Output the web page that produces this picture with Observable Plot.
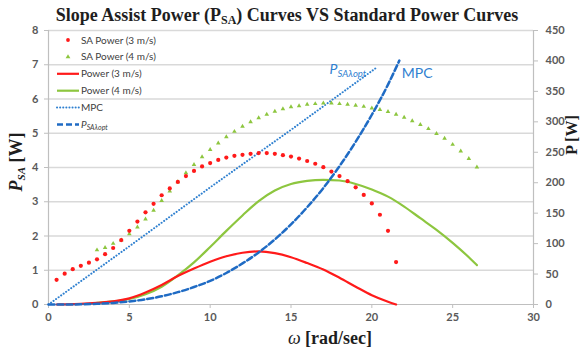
<!DOCTYPE html>
<html><head><meta charset="utf-8">
<script src="https://cdn.jsdelivr.net/npm/d3@7"></script>
<script src="https://cdn.jsdelivr.net/npm/@observablehq/plot@0.6"></script>
<style>body{margin:0;background:#fff;} svg{display:block;overflow:visible}</style>
</head><body><div id="chart"></div>
<script>
// ---- data ----
const saOmega3 = [0.5,1,1.5,2,2.5,3,3.5,4,4.5,5,5.5,6,6.5,7,7.5,8,8.5,9,9.5,10,10.5,11,11.5,12,12.5,13,13.5,14,14.5,15,15.5,16,16.5,17,17.5,18,18.5,19,19.5,20,20.5,21,21.5];
const saPower3 = [0.72,0.90,1.03,1.13,1.22,1.32,1.47,1.65,1.88,2.15,2.42,2.69,2.94,3.19,3.39,3.58,3.75,3.90,4.03,4.13,4.22,4.29,4.34,4.37,4.40,4.42,4.42,4.40,4.36,4.32,4.26,4.19,4.11,4.01,3.88,3.75,3.60,3.42,3.20,2.95,2.62,2.15,1.24];
const saOmega4 = [3,3.5,4,4.5,5,5.5,6,6.5,7,7.5,8,8.5,9,9.5,10,10.5,11,11.5,12,12.5,13,13.5,14,14.5,15,15.5,16,16.5,17,17.5,18,18.5,19,19.5,20,20.5,21,21.5,22,22.5,23,23.5,24,24.5,25,25.5,26,26.5];
const saPower4 = [1.59,1.66,1.78,1.88,2.06,2.26,2.49,2.75,3.03,3.31,3.58,3.84,4.08,4.31,4.52,4.71,4.89,5.05,5.20,5.33,5.45,5.55,5.64,5.71,5.77,5.80,5.84,5.86,5.88,5.88,5.86,5.84,5.81,5.78,5.73,5.69,5.63,5.55,5.46,5.36,5.25,5.13,4.99,4.85,4.67,4.48,4.26,4.01];
const powerOmega3 = [0.5,1,2,3,4,5,6,7,8,9,10,11,12,13,14,15,16,17,18,19,20,21,21.5];
const power3 = [0,0.005,0.02,0.05,0.09,0.18,0.35,0.57,0.83,1.05,1.25,1.41,1.51,1.55,1.50,1.38,1.21,1.02,0.78,0.52,0.27,0.08,0];
const powerOmega4 = [3,4,5,6,7,8,9,10,11,12,13,14,15,16,17,18,19,20,21,22,23,24,25,26,26.5];
const power4 = [0.05,0.09,0.16,0.30,0.52,0.85,1.23,1.68,2.15,2.60,3.02,3.33,3.52,3.61,3.64,3.62,3.52,3.36,3.15,2.86,2.52,2.18,1.80,1.38,1.15];
const mpcOmega = [0,5,10,15,20.3];
const mpc = [0,1.70,3.42,5.10,6.92];
const optOmega = [0,1,2,3,4,5,6,7,8,9,10,11,12,13,14,15,16,17,18,19,20,21,21.7];
const optPower = [0,0.001,0.006,0.02,0.045,0.09,0.15,0.24,0.36,0.51,0.69,0.92,1.20,1.52,1.90,2.34,2.84,3.40,4.04,4.75,5.54,6.42,7.12];
const xTicks = [0,5,10,15,20,25,30];
const leftTicks = [0,1,2,3,4,5,6,7,8];
const rightTicks = [0,50,100,150,200,250,300,350,400,450];
const legendLabels = ["SA Power (3 m/s)","SA Power (4 m/s)","Power (3 m/s)","Power (4 m/s)","MPC"];

const RED = "#ff1a1a", GREEN = "#8dc63f", BLUE_DOT = "#2f80d0", BLUE_DASH = "#1f6bc4";
const LEFT_MAX = 8, RIGHT_MAX = 450;
const tbl = (xs, ys) => xs.map((x, i) => ({x, y: ys[i]}));

const plot = Plot.plot({
  width: 584, height: 353,
  marginLeft: 48, marginRight: 51, marginTop: 30, marginBottom: 49,
  x: {domain: [0, 30]},
  y: {domain: [0, LEFT_MAX]},
  style: {fontFamily: "Lato, sans-serif", fontSize: "11px", fontWeight: "bold", color: "#595959", background: "#fff"},
  marks: [
    Plot.gridY(leftTicks.filter(d => d > 0), {stroke: "#d9d9d9", strokeOpacity: 1, strokeWidth: 1.6}),
    Plot.axisX(xTicks, {tickSize: 4, tickPadding: 5, stroke: "#bfbfbf", fill: "#595959", label: null}),
    Plot.axisY(leftTicks, {anchor: "left", tickSize: 4, tickPadding: 6, stroke: "#bfbfbf", fill: "#595959", label: null}),
    Plot.axisY(rightTicks.map(v => v * LEFT_MAX / RIGHT_MAX), {anchor: "right", tickSize: 4, tickPadding: 8, stroke: "#bfbfbf", fill: "#595959", label: null,
      tickFormat: d => String(Math.round(d * RIGHT_MAX / LEFT_MAX))}),
    Plot.ruleX([0], {stroke: "#bfbfbf", strokeWidth: 1.2}),
    Plot.ruleX([30], {stroke: "#bfbfbf", strokeWidth: 1.2}),
    Plot.ruleY([0], {stroke: "#bfbfbf", strokeWidth: 1.2}),
    Plot.line(tbl(mpcOmega, mpc), {x: "x", y: "y", stroke: BLUE_DOT, strokeWidth: 2, strokeDasharray: "0.1,3", strokeLinecap: "round"}),
    Plot.line(tbl(powerOmega4, power4), {x: "x", y: "y", stroke: GREEN, strokeWidth: 2.2, curve: "monotone-x"}),
    Plot.line(tbl(powerOmega3, power3), {x: "x", y: "y", stroke: RED, strokeWidth: 2.2, curve: "monotone-x"}),
    Plot.line(tbl(optOmega, optPower), {x: "x", y: "y", stroke: BLUE_DASH, strokeWidth: 2.5, strokeDasharray: "6,3", curve: "monotone-x"}),
    Plot.dot(tbl(saOmega4, saPower4), {x: "x", y: "y", symbol: "triangle", r: 1.7, fill: GREEN, stroke: "none"}),
    Plot.dot(tbl(saOmega3, saPower3), {x: "x", y: "y", r: 2.1, fill: RED, stroke: "none"})
  ]
});
document.getElementById("chart").appendChild(plot);

const svg = d3.select(plot);
const sx = plot.scale("x"), sy = plot.scale("y");
const serif = "'Liberation Serif', 'Times New Roman', serif";

// title
const t = svg.append("text").attr("x", 287).attr("y", 21).attr("text-anchor", "middle")
  .style("font-family", serif).style("font-size", "18px").style("font-weight", "bold").attr("fill", "#1e1e1e");
t.append("tspan").text("Slope Assist Power (P");
t.append("tspan").style("font-size", "12px").attr("dy", 3).text("SA");
t.append("tspan").attr("dy", -3).text(") Curves VS Standard Power Curves");

// x label
const xl = svg.append("text").attr("x", 330).attr("y", 344).attr("text-anchor", "middle")
  .style("font-family", serif).style("font-size", "18px").style("font-weight", "bold").attr("fill", "#1e1e1e");
xl.append("tspan").style("font-style", "italic").style("font-weight", "normal").text("ω");
xl.append("tspan").text(" [rad/sec]");

// left y label
const yl = svg.append("text").attr("transform", "translate(22,162) rotate(-90)").attr("text-anchor", "middle")
  .style("font-family", serif).style("font-size", "18px").style("font-weight", "bold").attr("fill", "#1e1e1e");
yl.append("tspan").style("font-style", "italic").text("P");
yl.append("tspan").style("font-style", "italic").style("font-size", "11px").attr("dy", 3).text("SA");
yl.append("tspan").attr("dy", -3).text(" [W]");

// right y label
svg.append("text").attr("transform", "translate(577,135) rotate(-90)").attr("text-anchor", "middle")
  .style("font-family", serif).style("font-size", "16px").style("font-weight", "bold").attr("fill", "#1e1e1e")
  .text("P [W]");

// annotations at line ends
const mpcEnd = [mpcOmega[mpcOmega.length - 1], mpc[mpc.length - 1]];
const optEnd = [optOmega[optOmega.length - 1], optPower[optPower.length - 1]];
const a1 = svg.append("text").attr("x", sx.apply(mpcEnd[0]) - 10).attr("y", sy.apply(mpcEnd[1]) + 7).attr("text-anchor", "end")
  .style("font-family", "Lato, sans-serif").style("font-size", "14px").style("font-weight", "normal").attr("fill", BLUE_DOT);
a1.append("tspan").style("font-style", "italic").text("P");
a1.append("tspan").style("font-style", "italic").style("font-size", "9.5px").attr("dy", 3).text("SAλopt");
svg.append("text").attr("x", sx.apply(optEnd[0]) + 3).attr("y", sy.apply(optEnd[1]) + 18).attr("text-anchor", "start")
  .style("font-family", "Lato, sans-serif").style("font-size", "14px").style("font-weight", "normal").attr("fill", BLUE_DOT)
  .text("MPC");

// legend
const lg = svg.append("g").attr("text-anchor", "start").style("font-family", "Lato, sans-serif").style("font-size", "10px").style("font-weight", "normal").attr("fill", "#404040");
const rowY = i => 40 + 16.9 * i;
lg.append("circle").attr("cx", 68).attr("cy", rowY(0)).attr("r", 1.9).attr("fill", RED);
lg.append("path").attr("transform", `translate(68,${rowY(1)})`).attr("d", d3.symbol(d3.symbolTriangle, 10)()).attr("fill", GREEN);
lg.append("line").attr("x1", 57).attr("x2", 79).attr("y1", rowY(2)).attr("y2", rowY(2)).attr("stroke", RED).attr("stroke-width", 2.2);
lg.append("line").attr("x1", 57).attr("x2", 79).attr("y1", rowY(3)).attr("y2", rowY(3)).attr("stroke", GREEN).attr("stroke-width", 2.2);
lg.append("line").attr("x1", 57).attr("x2", 79).attr("y1", rowY(4)).attr("y2", rowY(4)).attr("stroke", BLUE_DOT).attr("stroke-width", 2).attr("stroke-dasharray", "0.1,3").attr("stroke-linecap", "round");
lg.append("line").attr("x1", 57).attr("x2", 79).attr("y1", rowY(5)).attr("y2", rowY(5)).attr("stroke", BLUE_DASH).attr("stroke-width", 2.5).attr("stroke-dasharray", "6,3");
legendLabels.forEach((s, i) => {
  lg.append("text").attr("x", 81).attr("y", rowY(i)).attr("dy", "0.35em").attr("text-anchor", "start").text(s);
});
const l5 = lg.append("text").attr("x", 81).attr("y", rowY(5)).attr("dy", "0.35em").attr("text-anchor", "start");
l5.append("tspan").style("font-style", "italic").text("P");
l5.append("tspan").style("font-style", "italic").style("font-size", "7px").attr("dy", 2).text("SAλopt");
</script>
</body></html>
